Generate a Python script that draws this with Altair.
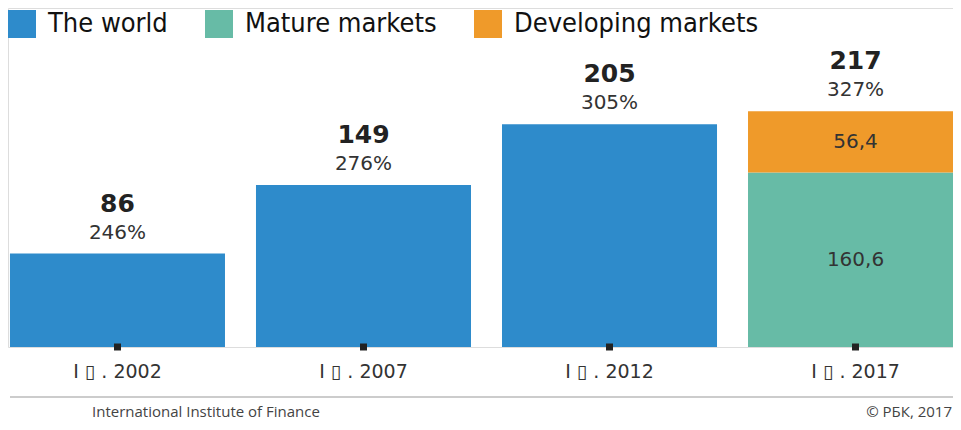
import altair as alt
import pandas as pd

periods = ["I ▯ . 2002", "I ▯ . 2007", "I ▯ . 2012", "I ▯ . 2017"]
series_names = ["The world", "Mature markets", "Developing markets"]
colors = ["#2E8BCB", "#67BBA6", "#EF9A2A"]

seg_period = ["I ▯ . 2002", "I ▯ . 2007", "I ▯ . 2012", "I ▯ . 2017", "I ▯ . 2017"]
seg_series = ["The world", "The world", "The world", "Mature markets", "Developing markets"]
seg_value = [86, 149, 205, 160.6, 56.4]
seg_label = ["", "", "", "160,6", "56,4"]
seg_order = [0, 0, 0, 1, 2]

totals = [86, 149, 205, 217]
total_labels = ["86", "149", "205", "217"]
pct_labels = ["246%", "276%", "305%", "327%"]

source_text = ["International Institute of Finance"]
credit_text = ["© РБК, 2017"]

segs = pd.DataFrame({"period": seg_period, "series": seg_series, "value": seg_value,
                     "label": seg_label, "order": seg_order})
tot = pd.DataFrame({"period": periods, "total": totals, "tlabel": total_labels, "plabel": pct_labels,
                    "zero": [0] * len(periods)})

FONT = "DejaVu Sans"
W, H = 945, 339
x = alt.X("period:N", sort=periods, title=None,
          scale=alt.Scale(paddingInner=0.126, paddingOuter=0.008, range=[0, 957]),
          axis=alt.Axis(domain=False, ticks=False, labelAngle=0, labelFontSize=19,
                        labelFont=FONT, labelColor="#333333", labelPadding=15))
yscale = alt.Scale(domain=[0, 312], nice=False, zero=True)

bars = alt.Chart(segs).mark_bar(opacity=1).encode(
    x=x,
    y=alt.Y("value:Q", stack="zero", scale=yscale, axis=None),
    color=alt.Color("series:N", sort=series_names,
                    scale=alt.Scale(domain=series_names, range=colors),
                    legend=alt.Legend(title=None, orient="none", legendX=0, legendY=2,
                                      direction="horizontal", symbolType="square",
                                      symbolSize=784, symbolStrokeWidth=0,
                                      labelFont="DejaVu Sans Condensed, DejaVu Sans, sans-serif",
                                      labelFontSize=27, labelColor="#111111", labelOffset=12,
                                      columnPadding=37, padding=0, labelLimit=400)),
    order=alt.Order("order:Q"),
)

inner = alt.Chart(segs).transform_filter("datum.label != ''").transform_window(
    cum="sum(value)", groupby=["period"], sort=[alt.SortField("order")]
).transform_calculate(mid="datum.cum - datum.value / 2").mark_text(
    font=FONT, fontSize=20, color="#333333", baseline="middle"
).encode(
    x=alt.X("period:N", sort=periods),
    y=alt.Y("mid:Q", scale=yscale),
    text="label:N",
)

top_val = alt.Chart(tot).mark_text(font=FONT, fontWeight="bold", fontSize=25,
                                   color="#222222", baseline="middle", dy=-50).encode(
    x=alt.X("period:N", sort=periods), y=alt.Y("total:Q", scale=yscale), text="tlabel:N")
top_pct = alt.Chart(tot).mark_text(font=FONT, fontSize=20, color="#333333",
                                   baseline="middle", dy=-21).encode(
    x=alt.X("period:N", sort=periods), y=alt.Y("total:Q", scale=yscale), text="plabel:N")

ticks = alt.Chart(tot).mark_square(size=49, color="#222222", opacity=1).encode(
    x=alt.X("period:N", sort=periods), y=alt.Y("zero:Q", scale=yscale))

rule = alt.Chart(pd.DataFrame({"a": [0]})).mark_rule(color="#cccccc", strokeWidth=2).encode(
    x=alt.value(2), x2=alt.value(W), y=alt.value(389))

src = alt.Chart(pd.DataFrame({"t": source_text})).mark_text(
    font="Open Sans", fontSize=15, color="#444444", align="left", baseline="middle").encode(
    x=alt.value(84), y=alt.value(404), text="t:N")
cred = alt.Chart(pd.DataFrame({"t": credit_text})).mark_text(
    font="Open Sans", fontSize=15, color="#444444", align="right", baseline="middle").encode(
    x=alt.value(W - 1), y=alt.value(404), text="t:N")

chart = alt.layer(bars, inner, top_val, top_pct, ticks, rule, src, cred).properties(
    width=W, height=H, autosize=alt.AutoSizeParams(type="none"),
    padding={"left": 0, "top": 0, "right": 0, "bottom": 74},
).configure_view(stroke=None).configure(background="white")

chart.save("out.html", embed_options={"renderer": "svg", "actions": False})
